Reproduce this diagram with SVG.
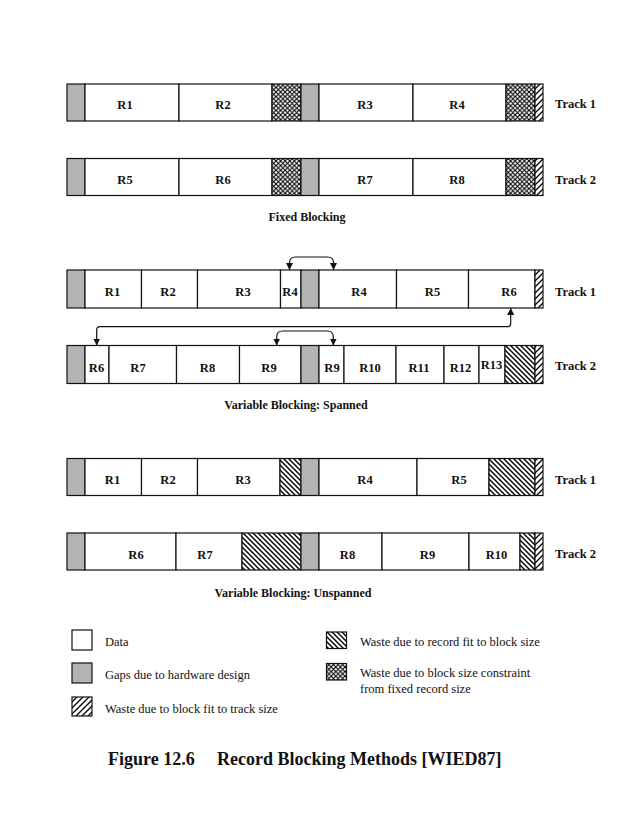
<svg xmlns="http://www.w3.org/2000/svg" width="637" height="824" viewBox="0 0 637 824">
<style>
.bg{fill:#fff}
.d{fill:#fff;stroke:#111;stroke-width:1.2}
.g{fill:#b3b3b3;stroke:#111;stroke-width:1.2}
.x{fill:url(#cross);stroke:#111;stroke-width:1.2}
.b{fill:url(#bhatch);stroke:#111;stroke-width:1.2}
.f{fill:url(#fhatch);stroke:#111;stroke-width:1.2}
.l{font-family:"Liberation Serif","Times New Roman",serif;font-weight:bold;font-size:12.5px;text-anchor:middle;fill:#111}
.t{font-family:"Liberation Serif","Times New Roman",serif;font-weight:bold;font-size:12.5px;fill:#111}
.h{font-family:"Liberation Serif","Times New Roman",serif;font-weight:bold;font-size:12px;text-anchor:middle;fill:#111}
.lg{font-family:"Liberation Serif","Times New Roman",serif;font-size:12.5px;fill:#111}
.cap{font-family:"Liberation Serif","Times New Roman",serif;font-weight:bold;font-size:18px;fill:#111}
.c{fill:none;stroke:#111;stroke-width:1.2;marker-start:url(#ah);marker-end:url(#ah)}
</style>
<defs>
<pattern id="cross" patternUnits="userSpaceOnUse" width="4.6" height="4.6">
<rect width="4.6" height="4.6" fill="#fff"/>
<path d="M0,0 L4.6,4.6 M4.6,0 L0,4.6" stroke="#000" stroke-width="1.1"/>
</pattern>
<pattern id="bhatch" patternUnits="userSpaceOnUse" width="5" height="5">
<rect width="5" height="5" fill="#fff"/>
<path d="M0,0 L5,5 M-1,4 L1,6 M4,-1 L6,1" stroke="#000" stroke-width="1.4"/>
</pattern>
<pattern id="fhatch" patternUnits="userSpaceOnUse" width="6" height="6">
<rect width="6" height="6" fill="#fff"/>
<path d="M0,6 L6,0 M-1,1 L1,-1 M5,7 L7,5" stroke="#000" stroke-width="1.3"/>
</pattern>
<marker id="ah" viewBox="0 0 10 10" refX="10" refY="5" markerWidth="7" markerHeight="7" markerUnits="userSpaceOnUse" orient="auto-start-reverse">
<path d="M0,0 L10,5 L0,10 z" fill="#111"/>
</marker>
</defs>
<rect class="bg" width="637" height="824"/>

<!-- Fixed blocking track 1 -->
<g id="fixed-track1">
<rect class="g" x="67" y="84" width="18" height="37"/>
<g id="f1-R1"><rect class="d" x="85" y="84" width="94" height="37"/><text class="l" x="125" y="109">R1</text></g>
<g id="f1-R2"><rect class="d" x="179" y="84" width="93" height="37"/><text class="l" x="223" y="109">R2</text></g>
<rect class="x" x="272" y="84" width="29" height="37"/>
<rect class="g" x="301" y="84" width="18" height="37"/>
<g id="f1-R3"><rect class="d" x="319" y="84" width="94" height="37"/><text class="l" x="365" y="109">R3</text></g>
<g id="f1-R4"><rect class="d" x="413" y="84" width="93" height="37"/><text class="l" x="457" y="109">R4</text></g>
<rect class="x" x="506" y="84" width="29" height="37"/>
<rect class="f" x="535" y="84" width="8" height="37"/>
<text class="t" x="555" y="108">Track 1</text>
</g>

<!-- Fixed blocking track 2 -->
<g id="fixed-track2">
<rect class="g" x="67" y="158.5" width="18" height="37"/>
<g id="f2-R5"><rect class="d" x="85" y="158.5" width="94" height="37"/><text class="l" x="125" y="183.5">R5</text></g>
<g id="f2-R6"><rect class="d" x="179" y="158.5" width="93" height="37"/><text class="l" x="223" y="183.5">R6</text></g>
<rect class="x" x="272" y="158.5" width="29" height="37"/>
<rect class="g" x="301" y="158.5" width="18" height="37"/>
<g id="f2-R7"><rect class="d" x="319" y="158.5" width="94" height="37"/><text class="l" x="365" y="183.5">R7</text></g>
<g id="f2-R8"><rect class="d" x="413" y="158.5" width="93" height="37"/><text class="l" x="457" y="183.5">R8</text></g>
<rect class="x" x="506" y="158.5" width="29" height="37"/>
<rect class="f" x="535" y="158.5" width="8" height="37"/>
<text class="t" x="555" y="184">Track 2</text>
</g>
<text class="h" x="307" y="221">Fixed Blocking</text>

<!-- Spanned track 1 -->
<g id="span-track1">
<rect class="g" x="67" y="270" width="18" height="38"/>
<g id="s1-R1"><rect class="d" x="85" y="270" width="56.5" height="38"/><text class="l" x="112.5" y="296">R1</text></g>
<g id="s1-R2"><rect class="d" x="141.5" y="270" width="56" height="38"/><text class="l" x="168" y="296">R2</text></g>
<g id="s1-R3"><rect class="d" x="197.5" y="270" width="83" height="38"/><text class="l" x="243" y="296">R3</text></g>
<g id="s1-R4a"><rect class="d" x="280.5" y="270" width="20.5" height="38"/><text class="l" x="290" y="296">R4</text></g>
<rect class="g" x="301" y="270" width="18" height="38"/>
<g id="s1-R4b"><rect class="d" x="319" y="270" width="77.5" height="38"/><text class="l" x="359" y="296">R4</text></g>
<g id="s1-R5"><rect class="d" x="396.5" y="270" width="72" height="38"/><text class="l" x="432.5" y="296">R5</text></g>
<g id="s1-R6"><rect class="d" x="468.5" y="270" width="66.5" height="38"/><text class="l" x="509" y="296">R6</text></g>
<rect class="f" x="535" y="270" width="8" height="38"/>
<text class="t" x="555" y="296">Track 1</text>
</g>

<!-- Spanned track 2 -->
<g id="span-track2">
<rect class="g" x="67" y="345.5" width="18" height="38"/>
<g id="s2-R6"><rect class="d" x="85" y="345.5" width="24" height="38"/><text class="l" x="96.5" y="371.5">R6</text></g>
<g id="s2-R7"><rect class="d" x="109" y="345.5" width="67.5" height="38"/><text class="l" x="138" y="371.5">R7</text></g>
<g id="s2-R8"><rect class="d" x="176.5" y="345.5" width="63" height="38"/><text class="l" x="207.5" y="371.5">R8</text></g>
<g id="s2-R9a"><rect class="d" x="239.5" y="345.5" width="61.5" height="38"/><text class="l" x="269" y="371.5">R9</text></g>
<rect class="g" x="301" y="345.5" width="18" height="38"/>
<g id="s2-R9b"><rect class="d" x="319" y="345.5" width="25" height="38"/><text class="l" x="332" y="371.5">R9</text></g>
<g id="s2-R10"><rect class="d" x="344" y="345.5" width="52" height="38"/><text class="l" x="370" y="371.5">R10</text></g>
<g id="s2-R11"><rect class="d" x="396" y="345.5" width="48" height="38"/><text class="l" x="419" y="371.5">R11</text></g>
<g id="s2-R12"><rect class="d" x="444" y="345.5" width="35" height="38"/><text class="l" x="460.5" y="371.5">R12</text></g>
<g id="s2-R13"><rect class="d" x="479" y="345.5" width="26" height="38"/><text class="l" x="491.5" y="369">R13</text></g>
<rect class="b" x="505" y="345.5" width="30" height="38"/>
<rect class="f" x="535" y="345.5" width="8" height="38"/>
<text class="t" x="555" y="370">Track 2</text>
</g>
<text class="h" x="296" y="409">Variable Blocking: Spanned</text>

<!-- Unspanned track 1 -->
<g id="unspan-track1">
<rect class="g" x="67" y="458.5" width="18" height="37"/>
<g id="u1-R1"><rect class="d" x="85" y="458.5" width="56.5" height="37"/><text class="l" x="112.5" y="484">R1</text></g>
<g id="u1-R2"><rect class="d" x="141.5" y="458.5" width="56" height="37"/><text class="l" x="168" y="484">R2</text></g>
<g id="u1-R3"><rect class="d" x="197.5" y="458.5" width="82.5" height="37"/><text class="l" x="243" y="484">R3</text></g>
<rect class="b" x="280" y="458.5" width="21" height="37"/>
<rect class="g" x="301" y="458.5" width="18" height="37"/>
<g id="u1-R4"><rect class="d" x="319" y="458.5" width="98" height="37"/><text class="l" x="365" y="484">R4</text></g>
<g id="u1-R5"><rect class="d" x="417" y="458.5" width="72" height="37"/><text class="l" x="459" y="484">R5</text></g>
<rect class="b" x="489" y="458.5" width="46" height="37"/>
<rect class="f" x="535" y="458.5" width="8" height="37"/>
<text class="t" x="555" y="483.5">Track 1</text>
</g>

<!-- Unspanned track 2 -->
<g id="unspan-track2">
<rect class="g" x="67" y="533" width="18" height="37"/>
<g id="u2-R6"><rect class="d" x="85" y="533" width="91" height="37"/><text class="l" x="136" y="558.5">R6</text></g>
<g id="u2-R7"><rect class="d" x="176" y="533" width="66" height="37"/><text class="l" x="205" y="558.5">R7</text></g>
<rect class="b" x="242" y="533" width="59" height="37"/>
<rect class="g" x="301" y="533" width="18" height="37"/>
<g id="u2-R8"><rect class="d" x="319" y="533" width="63" height="37"/><text class="l" x="347.5" y="558.5">R8</text></g>
<g id="u2-R9"><rect class="d" x="382" y="533" width="87" height="37"/><text class="l" x="427.5" y="558.5">R9</text></g>
<g id="u2-R10"><rect class="d" x="469" y="533" width="51" height="37"/><text class="l" x="496.5" y="558.5">R10</text></g>
<rect class="b" x="520" y="533" width="15" height="37"/>
<rect class="f" x="535" y="533" width="8" height="37"/>
<text class="t" x="555" y="558">Track 2</text>
</g>
<text class="h" x="293" y="596.5">Variable Blocking: Unspanned</text>

<!-- Connectors -->
<g id="connectors">
<path class="c" d="M289.5,270 V263 Q289.5,257 295.5,257 H327.5 Q333.5,257 333.5,263 V270"/>
<path class="c" d="M96.7,345.5 V330 Q96.7,326.7 100,326.7 H507.5 Q510.7,326.7 510.7,323.5 V308"/>
<path class="c" d="M276.7,345.5 V337 Q276.7,331 282.7,331 H327.3 Q333.3,331 333.3,337 V345.5"/>
</g>

<!-- Legend -->
<g id="legend">
<g id="leg-data"><rect class="d" x="72" y="630" width="20" height="20"/><text class="lg" x="105" y="645.5">Data</text></g>
<g id="leg-gap"><rect class="g" x="72" y="663" width="20" height="20"/><text class="lg" x="105" y="679">Gaps due to hardware design</text></g>
<g id="leg-track"><rect class="f" x="72" y="697" width="20" height="19"/><text class="lg" x="105" y="712.5">Waste due to block fit to track size</text></g>
<g id="leg-record"><rect class="b" x="326.5" y="632" width="20" height="16.5"/><text class="lg" x="360" y="645.5">Waste due to record fit to block size</text></g>
<g id="leg-fixed"><rect class="x" x="326.5" y="663.5" width="20" height="16.5"/><text class="lg" x="360" y="677">Waste due to block size constraint</text><text class="lg" x="360" y="693">from fixed record size</text></g>
</g>

<text class="cap" y="765"><tspan x="108">Figure 12.6</tspan><tspan x="217">Record Blocking Methods [WIED87]</tspan></text>
</svg>
